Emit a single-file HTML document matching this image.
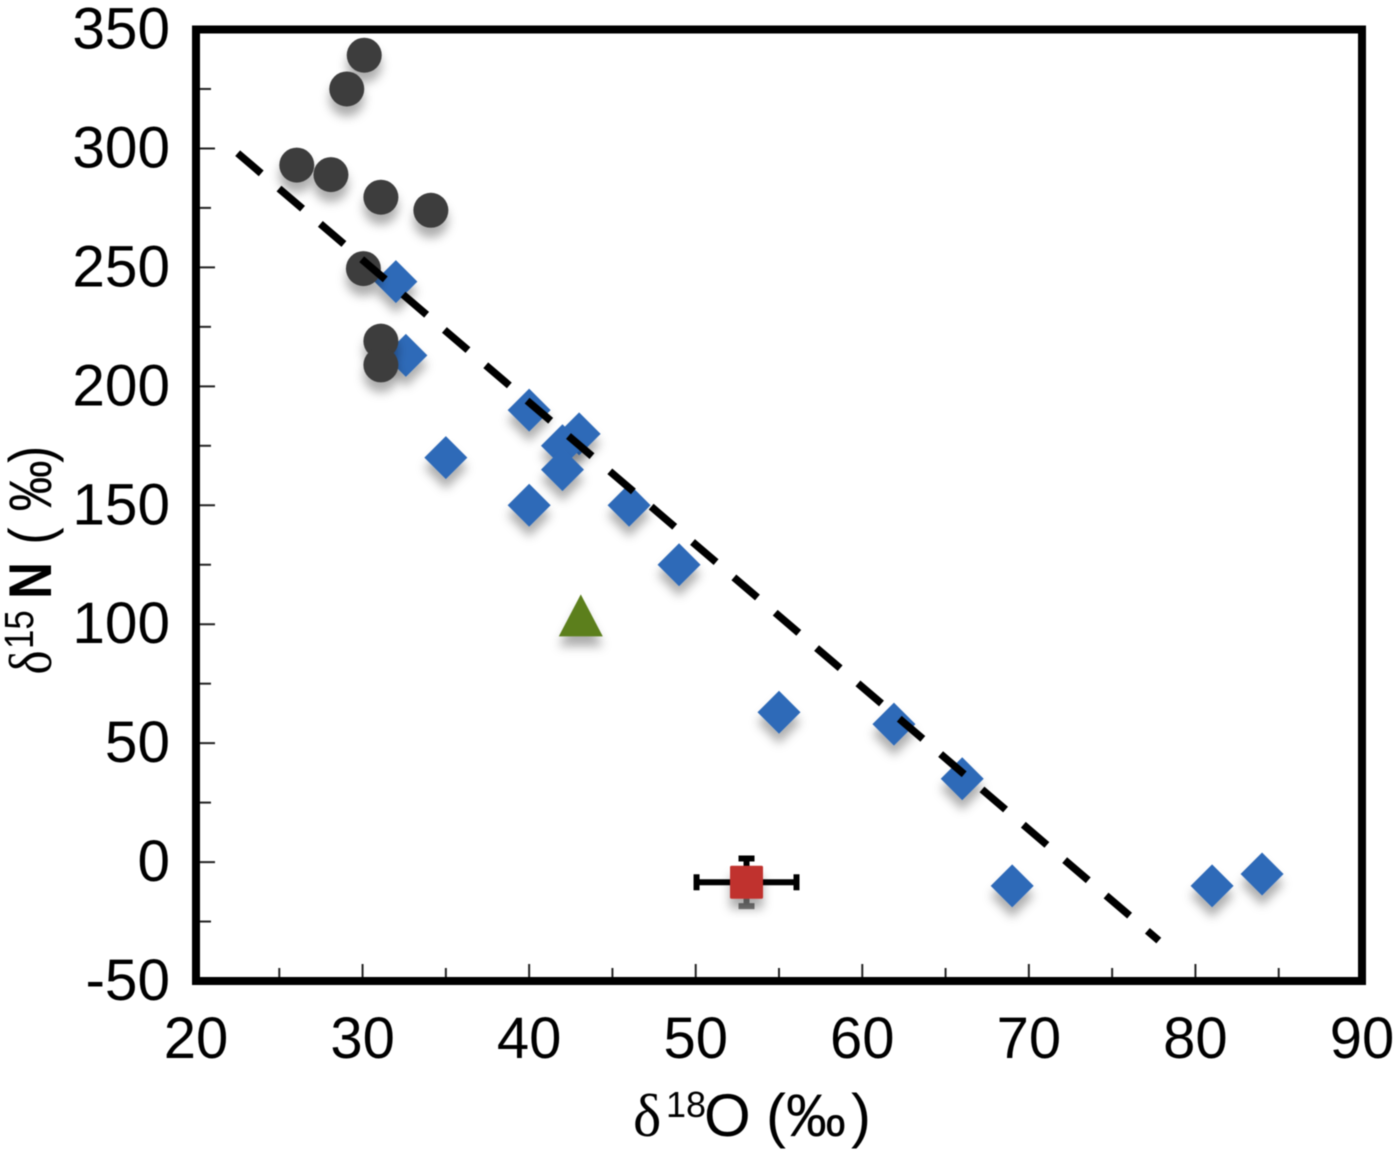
<!DOCTYPE html>
<html lang="en">
<head>
<meta charset="utf-8">
<title>δ15N vs δ18O scatter chart</title>
<style>
  html, body { margin: 0; padding: 0; background: #fff; }
  svg { display: block; filter: blur(0.6px); }
  text { font-family: "Liberation Sans", sans-serif; fill: #000; }
  .delta { font-family: "Liberation Serif", serif; }
</style>
</head>
<body>
<svg id="chart" width="1400" height="1157" viewBox="0 0 1400 1157" xmlns="http://www.w3.org/2000/svg">
  <defs>
    <filter id="marker-shadow" x="-60%" y="-60%" width="220%" height="250%">
      <feDropShadow dx="0" dy="10" stdDeviation="5" flood-color="#000" flood-opacity="0.32"/>
    </filter>
  </defs>
  <g id="marks-layer"></g>
  <g id="axes-layer"></g>
  <text y="1136" font-size="60"><tspan class="delta" x="633">δ</tspan><tspan font-size="36" x="666" y="1117">18</tspan><tspan x="704" y="1136">O</tspan><tspan x="766">(</tspan><tspan x="786">‰</tspan><tspan x="851">)</tspan></text>
  <text transform="translate(51,672) rotate(-90) scale(0.85,1)" font-size="60"><tspan class="delta" x="-3">δ</tspan><tspan font-size="41" x="27" y="-18">15</tspan><tspan font-weight="bold" x="86" y="0">N</tspan><tspan x="150">(</tspan><tspan x="189">‰</tspan><tspan x="246">)</tspan></text>
</svg>
<script>
// Chart data
const xTickLabels = [20, 30, 40, 50, 60, 70, 80, 90];
const xMinorTicks = [25, 35, 45, 55, 65, 75, 85];
const yTickLabels = [350, 300, 250, 200, 150, 100, 50, 0, -50];
const yMinorTicks = [325, 275, 225, 175, 125, 75, 25, -25];
const blueX = [32, 32.6, 40, 43, 42, 42, 35, 40, 46, 49, 55, 61.9, 66, 69, 81, 84];
const blueY = [244, 213, 190, 180, 175, 165, 170, 150, 150, 125, 63, 58, 35, -10, -10, -5];
const darkX = [30.1, 29.05, 26.05, 28.1, 31.1, 34.1, 30.05, 31.1, 31.1];
const darkY = [339.2, 325, 293, 289, 279.5, 274, 249.5, 219, 209];
const greenX = [43.1];
const greenY = [102];
const redX = [53.05];
const redY = [-8.5];
const redErrX = [3.0];
const redErrY = [10];
const trendX = [22.5, 77.8];
const trendY = [298, -33];

const NS = 'http://www.w3.org/2000/svg';
const xDomain = [20, 90], xRange = [196, 1362];
const yDomain = [-50, 350], yRange = [981, 29.5];
const sx = v => xRange[0] + (v - xDomain[0]) / (xDomain[1] - xDomain[0]) * (xRange[1] - xRange[0]);
const sy = v => yRange[0] + (v - yDomain[0]) / (yDomain[1] - yDomain[0]) * (yRange[1] - yRange[0]);
const marks = document.getElementById('marks-layer');
const axes = document.getElementById('axes-layer');

function make(parent, tag, props) {
  const el = document.createElementNS(NS, tag);
  for (const k in props) el.setAttribute(k, props[k]);
  parent.appendChild(el);
  return el;
}

// Blue diamonds
blueX.forEach((v, i) => {
  const cx = sx(v), cy = sy(blueY[i]), r = 21.5;
  const el = make(marks, 'polygon', {
    points: `${cx},${cy - r} ${cx + r},${cy} ${cx},${cy + r} ${cx - r},${cy}`,
    fill: '#2f6ab8', filter: 'url(#marker-shadow)'
  });
  
  
});

// Dark circles
darkX.forEach((v, i) => {
  const el = make(marks, 'circle', {
    cx: sx(v), cy: sy(darkY[i]), r: 17.5,
    fill: '#3d3d3d', filter: 'url(#marker-shadow)'
  });
  
  
});

// Green triangle
greenX.forEach((v, i) => {
  const cx = sx(v), cy = sy(greenY[i]);
  const el = make(marks, 'polygon', {
    points: `${cx},${cy - 25} ${cx + 22},${cy + 17} ${cx - 22},${cy + 17}`,
    fill: '#5b7f1f', filter: 'url(#marker-shadow)'
  });
  
  
});

// Red square with error bars
redX.forEach((v, i) => {
  const cx = sx(v), cy = sy(redY[i]);
  const xl = sx(v - redErrX[i]), xr = sx(v + redErrX[i]);
  const yt = sy(redY[i] + redErrY[i]), yb = sy(redY[i] - redErrY[i]);
  const bars = make(marks, 'g', {});
  
  
  const black = { stroke: '#000', 'stroke-width': 6 };
  const grey = { stroke: '#808080', 'stroke-width': 6 };
  make(bars, 'line', { x1: xl, x2: xr, y1: cy, y2: cy, ...black });
  make(bars, 'line', { x1: xl, x2: xl, y1: cy - 8, y2: cy + 8, stroke: '#000', 'stroke-width': 6 });
  make(bars, 'line', { x1: xr, x2: xr, y1: cy - 8, y2: cy + 8, stroke: '#000', 'stroke-width': 6 });
  make(bars, 'line', { x1: cx, x2: cx, y1: yt, y2: cy, ...black });
  make(bars, 'line', { x1: cx - 8, x2: cx + 8, y1: yt, y2: yt, ...black });
  make(bars, 'line', { x1: cx, x2: cx, y1: cy, y2: yb, ...grey });
  make(bars, 'line', { x1: cx - 8, x2: cx + 8, y1: yb, y2: yb, ...grey });
  const el = make(marks, 'rect', {
    x: cx - 16.5, y: cy - 16.5, width: 33, height: 33, rx: 1.5,
    fill: '#c0302e', filter: 'url(#marker-shadow)'
  });
  
  
});

// Dashed trend line
const trend = make(marks, 'line', {
  x1: sx(trendX[0]), y1: sy(trendY[0]), x2: sx(trendX[1]), y2: sy(trendY[1]),
  stroke: '#000', 'stroke-width': 7.5, 'stroke-dasharray': '31 23.4'
});



// Axes
xTickLabels.forEach(v => {
  const tick = make(axes, 'line', { x1: sx(v), x2: sx(v), y1: 981, y2: 964, stroke: '#222', 'stroke-width': 2 });
  
  
  const label = make(axes, 'text', { x: sx(v), y: 1058, 'font-size': 58, 'text-anchor': 'middle' });
  label.textContent = v;
  
  
});
xMinorTicks.forEach(v => {
  const tick = make(axes, 'line', { x1: sx(v), x2: sx(v), y1: 981, y2: 968, stroke: '#222', 'stroke-width': 2 });
  
  
});
yTickLabels.forEach(v => {
  const tick = make(axes, 'line', { x1: 196, x2: 215, y1: sy(v), y2: sy(v), stroke: '#222', 'stroke-width': 2 });
  
  
  const label = make(axes, 'text', { x: 170, y: sy(v) + 19, 'font-size': 58.5, 'text-anchor': 'end' });
  label.textContent = v;
  
  
});
yMinorTicks.forEach(v => {
  const tick = make(axes, 'line', { x1: 196, x2: 211, y1: sy(v), y2: sy(v), stroke: '#222', 'stroke-width': 2 });
  
  
});
const frame = make(axes, 'rect', { x: 196, y: 29.5, width: 1166, height: 951.5, fill: 'none', stroke: '#000', 'stroke-width': 8 });


</script>
</body>
</html>
